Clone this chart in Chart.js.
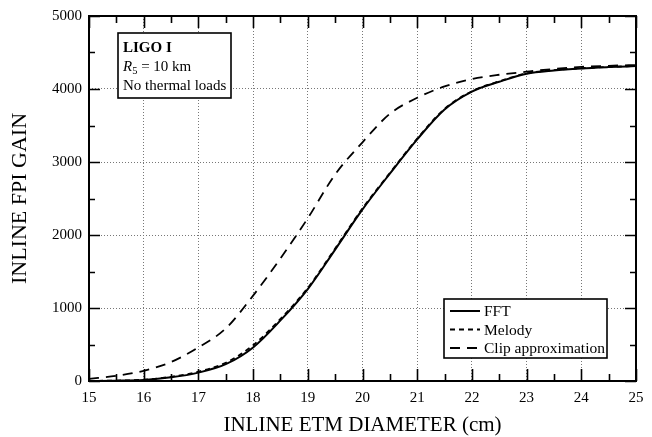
<!DOCTYPE html>
<html>
<head>
<meta charset="utf-8">
<script src="https://cdn.jsdelivr.net/npm/chart.js@4.4.1/dist/chart.umd.min.js"></script>
<style>
  html, body { margin: 0; padding: 0; background: #fff; }
  #wrap { width: 652px; height: 437px; }
</style>
</head>
<body>
<div id="wrap"><canvas id="gainChart" width="652" height="437"></canvas></div>
<script>
// ---- data ----
const diameters = [15, 15.5, 16, 16.5, 17, 17.5, 18, 18.5, 19, 19.5, 20, 20.5, 21, 21.5, 22, 22.5, 23, 23.5, 24, 24.5, 25];
const fftGain    = [0, 4, 14, 50, 115, 230, 460, 830, 1260, 1800, 2350, 2840, 3310, 3720, 3965, 4100, 4210, 4255, 4282, 4300, 4314];
const melodyGain = [2, 6, 18, 58, 128, 250, 490, 850, 1275, 1815, 2365, 2850, 3320, 3728, 3970, 4105, 4214, 4258, 4284, 4302, 4315];
const clipGain   = [30, 70, 140, 260, 460, 720, 1170, 1680, 2230, 2830, 3270, 3660, 3880, 4035, 4136, 4195, 4237, 4275, 4303, 4318, 4328];
const xTicks = [15, 16, 17, 18, 19, 20, 21, 22, 23, 24, 25];
const yTicks = [0, 1000, 2000, 3000, 4000, 5000];
const noteLines = ['LIGO I', 'R5 = 10 km', 'No thermal loads'];

const SERIF = "'Liberation Serif', 'Times New Roman', serif";

function pts(ys) {
    return diameters.map((x, i) => ({ x: x, y: ys[i] }));
}

// frame, inward ticks, legend box and note box
const framePlugin = {
    id: 'frame',
    afterDraw(chart) {
        const { ctx, chartArea: a, scales } = chart;
        const xs = scales.x, ys = scales.y;
        ctx.save();
        ctx.strokeStyle = '#000';
        ctx.lineWidth = 2;
        ctx.strokeRect(a.left, a.top, a.right - a.left, a.bottom - a.top);

        ctx.lineWidth = 1.6;
        ctx.beginPath();
        for (let v = 15; v <= 25; v += 0.5) {
            const px = Math.round(xs.getPixelForValue(v)) + 0.5;
            const len = Number.isInteger(v) ? 12 : 7;
            ctx.moveTo(px, a.bottom); ctx.lineTo(px, a.bottom - len);
            ctx.moveTo(px, a.top); ctx.lineTo(px, a.top + len);
        }
        for (let v = 0; v <= 5000; v += 500) {
            const py = Math.round(ys.getPixelForValue(v)) + 0.5;
            const len = v % 1000 === 0 ? 11 : 6;
            ctx.moveTo(a.left, py); ctx.lineTo(a.left + len, py);
            ctx.moveTo(a.right, py); ctx.lineTo(a.right - len, py);
        }
        ctx.stroke();

        // note box (top left)
        ctx.fillStyle = '#fff';
        ctx.fillRect(118, 33, 113, 65);
        ctx.lineWidth = 1.6;
        ctx.strokeRect(118, 33, 113, 65);
        ctx.fillStyle = '#000';
        ctx.textBaseline = 'alphabetic';
        ctx.textAlign = 'left';
        ctx.font = 'bold 15px ' + SERIF;
        ctx.fillText(noteLines[0], 123, 52);
        ctx.font = 'italic 15px ' + SERIF;
        ctx.fillText('R', 123, 71);
        let w = ctx.measureText('R').width;
        ctx.font = '10.5px ' + SERIF;
        ctx.fillText('5', 123 + w, 74);
        const w5 = ctx.measureText('5').width;
        ctx.font = '15px ' + SERIF;
        ctx.fillText(noteLines[1].slice(2), 123 + w + w5, 71);
        ctx.fillText(noteLines[2], 123, 90);

        // legend box (bottom right)
        ctx.fillStyle = '#fff';
        ctx.fillRect(444, 299, 163, 59);
        ctx.strokeRect(444, 299, 163, 59);
        ctx.fillStyle = '#000';
        ctx.font = '15.5px ' + SERIF;
        ctx.textBaseline = 'middle';
        chart.data.datasets.forEach((ds, i) => {
            const y = 311 + i * 18.5;
            ctx.save();
            ctx.lineWidth = ds.borderWidth;
            ctx.setLineDash(ds.borderDash || []);
            ctx.beginPath();
            ctx.moveTo(450, y); ctx.lineTo(480, y);
            ctx.stroke();
            ctx.restore();
            ctx.fillText(ds.label, 484, y + 1);
        });
        ctx.restore();
    }
};

new Chart(document.getElementById('gainChart'), {
    type: 'line',
    data: {
        datasets: [
            { label: 'FFT', data: pts(fftGain), borderColor: '#000', borderWidth: 2, borderDash: [] },
            { label: 'Melody', data: pts(melodyGain), borderColor: '#000', borderWidth: 1.8, borderDash: [5, 4] },
            { label: 'Clip approximation', data: pts(clipGain), borderColor: '#000', borderWidth: 1.8, borderDash: [10, 7] }
        ]
    },
    options: {
        responsive: false,
        animation: false,
        devicePixelRatio: 1,
        layout: { padding: { top: 14, right: 16, left: 0, bottom: 0 } },
        elements: {
            point: { radius: 0 },
            line: { cubicInterpolationMode: 'monotone', fill: false }
        },
        plugins: { legend: { display: false }, tooltip: { enabled: false } },
        scales: {
            x: {
                type: 'linear', min: 15, max: 25,
                afterFit(s) { s.height = 56; },
                afterBuildTicks(s) { s.ticks = xTicks.map(v => ({ value: v })); },
                grid: { color: '#777', lineWidth: 1, drawTicks: false },
                border: { display: false, dash: [1, 2] },
                ticks: { padding: 8, color: '#000', font: { family: SERIF, size: 15 }, callback: v => String(v) },
                title: {
                    display: true, text: 'INLINE ETM DIAMETER (cm)', color: '#000',
                    font: { family: SERIF, size: 21, lineHeight: 1 }, padding: { top: 0, bottom: 1 }
                }
            },
            y: {
                type: 'linear', min: 0, max: 5000,
                afterFit(s) { s.width = 89; },
                afterBuildTicks(s) { s.ticks = yTicks.map(v => ({ value: v })); },
                grid: { color: '#777', lineWidth: 1, drawTicks: false },
                border: { display: false, dash: [1, 2] },
                ticks: { padding: 7, color: '#000', font: { family: SERIF, size: 15 }, callback: v => String(v) },
                title: {
                    display: true, text: 'INLINE FPI GAIN', color: '#000',
                    font: { family: SERIF, size: 22, lineHeight: 1 }, padding: { top: 9, bottom: 0 }
                }
            }
        }
    },
    plugins: [framePlugin]
});
</script>
</body>
</html>
